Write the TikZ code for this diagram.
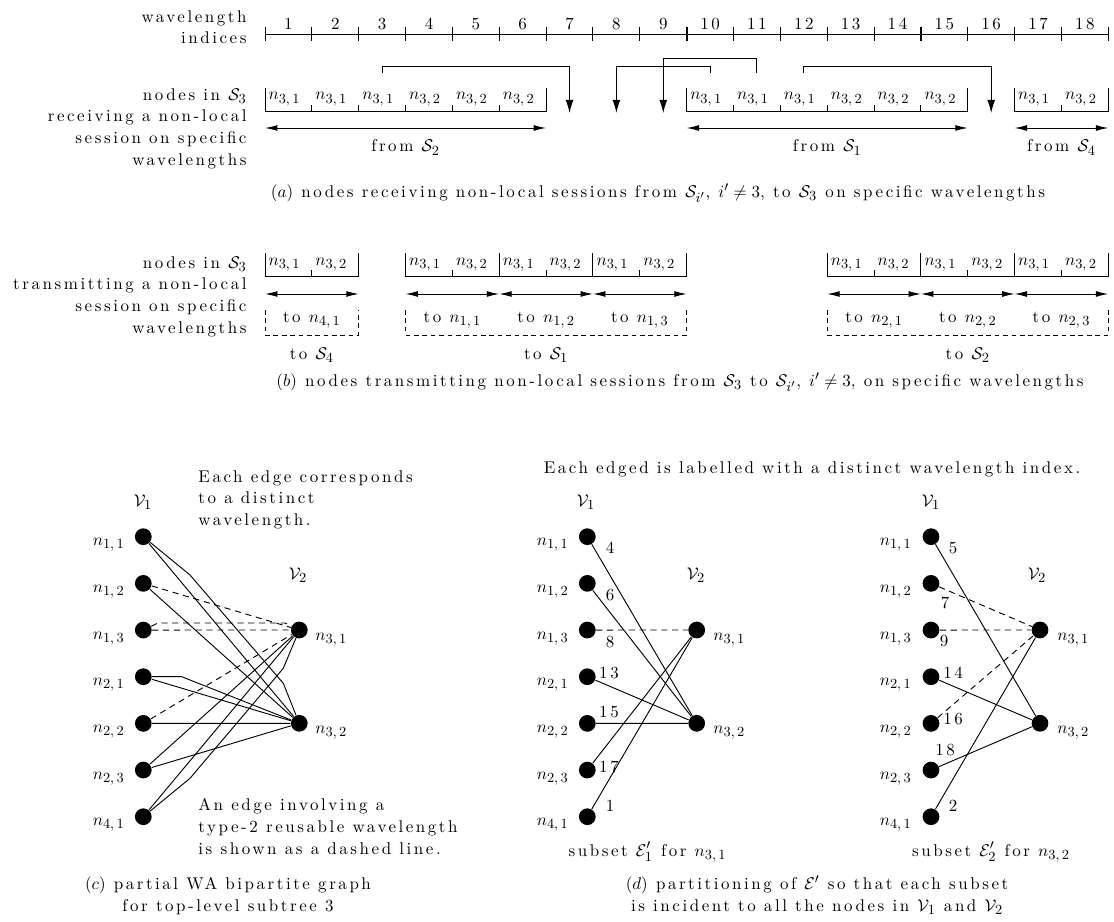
\documentclass[tikz,border=0pt]{standalone}
\usepackage{amsmath}
\usepackage{fontspec}
\setmainfont{lmroman10-regular.otf}[ItalicFont=lmroman10-italic.otf, BoldFont=lmroman10-bold.otf, LetterSpace=15]
\usetikzlibrary{arrows.meta, calc}
\DeclareMathSizes{10.95}{10.95}{9}{7}
\newcommand{\nd}[2]{$n_{#1,\,#2}$}

\begin{document}
\begin{tikzpicture}[
  x=0.645pt, y=-0.645pt,
  line width=0.6pt,
  every node/.style = {font=\fontsize{10.95}{14}\selectfont, inner sep=0pt},
  arr/.style   = {-{Latex[length=8.4pt, width=5pt]}},
  darr/.style  = {{Latex[length=8pt, width=3.8pt]}-{Latex[length=8pt, width=3.8pt]}},
  dot/.style   = {circle, fill=black, minimum size=10.8pt},
  reuse/.style = {dash pattern=on 4pt off 3pt},
  wbox/.style  = {dash pattern=on 3pt off 2.4pt},
  lbl/.style   = {anchor=base east},
  rlbl/.style  = {anchor=base west},
]
\useasboundingbox (0,0) rectangle (1114,922);

% wavelength axis
\foreach \i in {0,...,18}
  \coordinate (t\i) at (265+46.85*\i, 34);
\foreach \i in {1,...,18} {
  \coordinate (m\i) at (241.6+46.85*\i, 34);
  \coordinate (u\i) at (241.6+46.85*\i, 73);
  \coordinate (d\i) at (241.6+46.85*\i, 113);
  \node[anchor=base] (k\i) at ($(m\i)+(0,-4)$) {\i};
}
\node[anchor=north east, align=right] (axl) at (247,10) {wavelength\\indices};
\draw (t0) -- (t18);
\foreach \i in {0,...,18}
  \draw (t\i) ++(0,-7) -- ++(0,14);
\foreach \i in {4,9,14}
  \draw[line width=1.1pt] (t\i) ++(0,-7) -- ++(0,14);

% (a) receiving
\node[anchor=north east, align=right] (rxl) at (247,88)
  {nodes in $\mathcal{S}_3$\\receiving a non-local\\session on specific\\wavelengths};
\foreach \a/\b in {0/6, 9/15, 16/18}
  \draw ($(t\a)+(0,54)$) -- ($(t\a)+(0,77)$) -- ($(t\b)+(0,77)$) -- ($(t\b)+(0,54)$);
\foreach \i in {1,...,5,10,11,12,13,14,17}
  \draw ($(t\i)+(0,71)$) -- ($(t\i)+(0,77)$);
\foreach \i/\s in {1/1,2/1,3/1,4/2,5/2,6/2,10/1,11/1,12/1,13/2,14/2,15/2,17/1,18/2}
  \node[anchor=base] (a\i) at ($(m\i)+(-4,66)$) {\nd{3}{\s}};
\foreach \a/\b/\f in {0/6/2, 9/15/1, 16/18/4} {
  \draw[darr] ($(t\a)+(0,94)$) -- ($(t\b)+(0,94)$);
  \node[anchor=base] (fr\f) at ($(t\a)!0.5!(t\b)+(0,118)$) {from $\mathcal{S}_\f$};
}
\draw[arr] (u3) -- ++(0,-7) -| (d7);
\draw[arr] (u10) -- ++(0,-7) -| (d8);
\draw[arr] (u11) -- ++(0,-14.5) -| (d9);
\draw[arr] (u12) -- ++(0,-7) -| (d16);
\node (capa) at (658,193)
  {$(a)$ nodes receiving non-local sessions from $\mathcal{S}_{i'}$, $i'\neq3$, to $\mathcal{S}_3$ on specific wavelengths};

% (b) transmitting
\node[anchor=north east, align=right] (txl) at (247,256)
  {nodes in $\mathcal{S}_3$\\transmitting a non-local\\session on specific\\wavelengths};
\foreach \a/\b in {0/2, 3/9, 12/18}
  \draw ($(t\a)+(0,219)$) -- ($(t\a)+(0,242)$) -- ($(t\b)+(0,242)$) -- ($(t\b)+(0,219)$);
\foreach \i in {5,7,14,16}
  \draw ($(t\i)+(0,219)$) -- ($(t\i)+(0,242)$);
\foreach \i in {1,4,6,8,13,15,17}
  \draw ($(t\i)+(0,236)$) -- ($(t\i)+(0,242)$);
\foreach \i/\s in {1/1,2/2,4/1,5/2,6/1,7/2,8/1,9/2,13/1,14/2,15/1,16/2,17/1,18/2}
  \node[anchor=base] (b\i) at ($(m\i)+(-4,231)$) {\nd{3}{\s}};
\foreach \a/\b/\p/\q in {0/2/4/1, 3/5/1/1, 5/7/1/2, 7/9/1/3, 12/14/2/1, 14/16/2/2, 16/18/2/3} {
  \draw[darr] ($(t\a)+(0,260)$) -- ($(t\b)+(0,260)$);
  \node[anchor=base] (to\p\q) at ($(t\a)!0.5!(t\b)+(0,288)$) {to \nd{\p}{\q}};
}
\foreach \a/\b/\s in {0/2/4, 3/9/1, 12/18/2} {
  \draw[wbox] ($(t\a)+(0,276)$) -- ($(t\a)+(0,301)$) -- ($(t\b)+(0,301)$) -- ($(t\b)+(0,276)$);
  \node[anchor=base] (toS\s) at ($(t\a)!0.5!(t\b)+(0,325)$) {to $\mathcal{S}_\s$};
}
\node (capb) at (680,382)
  {$(b)$ nodes transmitting non-local sessions from $\mathcal{S}_3$ to $\mathcal{S}_{i'}$, $i'\neq3$, on specific wavelengths};

% (c) partial WA bipartite graph
\foreach \n/\i/\j [count=\k from 0] in {11/1/1, 12/1/2, 13/1/3, 21/2/1, 22/2/2, 23/2/3, 41/4/1} {
  \node[dot] (c\n) at (143.3, 536.7+46.67*\k) {};
  \node[lbl] (cl\n) at (125, 545.7+46.67*\k) {\nd{\i}{\j}};
  \node[dot] (p\n) at (587.3, 536.7+46.67*\k) {};
  \node[lbl] (pl\n) at (569, 545.7+46.67*\k) {\nd{\i}{\j}};
  \node[dot] (q\n) at (931, 536.7+46.67*\k) {};
  \node[lbl] (ql\n) at (912, 545.7+46.67*\k) {\nd{\i}{\j}};
}
\node[dot] (c31) at (299.3,630) {};
\node[dot] (c32) at (299.3,723.3) {};
\node[rlbl] at (315,640) {\nd{3}{1}};
\node[rlbl] at (315,733.3) {\nd{3}{2}};
\node (cv1) at (143,502) {$\mathcal{V}_1$};
\node (cv2) at (298,575) {$\mathcal{V}_2$};

\draw (c11) -- (c32);
\draw (c11) -- (190,575) -- (283.3,683.3) -- (c32);
\draw (c12) -- (c32);
\draw[reuse] (c12) -- (c31);
\draw[reuse] (c13) -- (c31);
\draw[reuse] (c13) -- (158,623) -- (285,623) -- (c31);
\draw (c21) -- (c32);
\draw (c21) -- (181.7,676.7) -- (c32);
\draw (c22) -- (c32);
\draw[reuse] (c22) -- (c31);
\draw (c23) -- (c31);
\draw (c23) -- (c32);
\draw (c41) -- (c31);
\draw (c41) -- (190,778.3) -- (283.3,668.3) -- (c31);

\node[anchor=north west, align=left] (cnote1) at (198,470)
  {Each edge corresponds\\to a distinct\\wavelength.};
\node[anchor=north west, align=left] (cnote2) at (198,798)
  {An edge involving a\\type-2 reusable wavelength\\is shown as a dashed line.};
\node[align=center] (capc) at (228,896)
  {$(c)$ partial WA bipartite graph\\for top-level subtree 3};

% (d) partitioning, subset 1
\node[dot] (p31) at (696.7,630) {};
\node[dot] (p32) at (696.7,723.3) {};
\node[rlbl] at (713,640) {\nd{3}{1}};
\node[rlbl] at (713,733.3) {\nd{3}{2}};
\node (pv1) at (586,502) {$\mathcal{V}_1$};
\node (pv2) at (696,575) {$\mathcal{V}_2$};
\draw (p11) -- (p32);
\draw (p12) -- (p32);
\draw[reuse] (p13) -- (p31);
\draw (p21) -- (p32);
\draw (p22) -- (p32);
\draw (p23) -- (p31);
\draw (p41) -- (p31);
\foreach \w/\x/\y in {4/610/548, 6/610/595, 8/610/642, 13/609/673, 15/609/712, 17/609/767, 1/610/806}
  \node (pw\w) at (\x,\y) {\w};
\node (psub) at (647.5,852) {subset $\mathcal{E}'_1$ for \nd{3}{1}};

% (d) partitioning, subset 2
\node[dot] (q31) at (1040,630) {};
\node[dot] (q32) at (1040,723.3) {};
\node[rlbl] at (1057,640) {\nd{3}{1}};
\node[rlbl] at (1057,733.3) {\nd{3}{2}};
\node (qv1) at (931,502) {$\mathcal{V}_1$};
\node (qv2) at (1037,575) {$\mathcal{V}_2$};
\draw (q11) -- (q32);
\draw[reuse] (q12) -- (q31);
\draw[reuse] (q13) -- (q31);
\draw (q21) -- (q32);
\draw[reuse] (q22) -- (q31);
\draw (q23) -- (q32);
\draw (q41) -- (q31);
\foreach \w/\x/\y in {5/953/548, 7/945/603, 9/944/641, 14/953/673, 16/953/719, 18/945/750, 2/953/806}
  \node (qw\w) at (\x,\y) {\w};
\node (qsub) at (991,852) {subset $\mathcal{E}'_2$ for \nd{3}{2}};

\node (dnote) at (812,469) {Each edged is labelled with a distinct wavelength index.};
\node[align=center] (capd) at (817,895)
  {$(d)$ partitioning of $\mathcal{E}'$ so that each subset\\is incident to all the nodes in $\mathcal{V}_1$ and $\mathcal{V}_2$};

\end{tikzpicture}
\end{document}
